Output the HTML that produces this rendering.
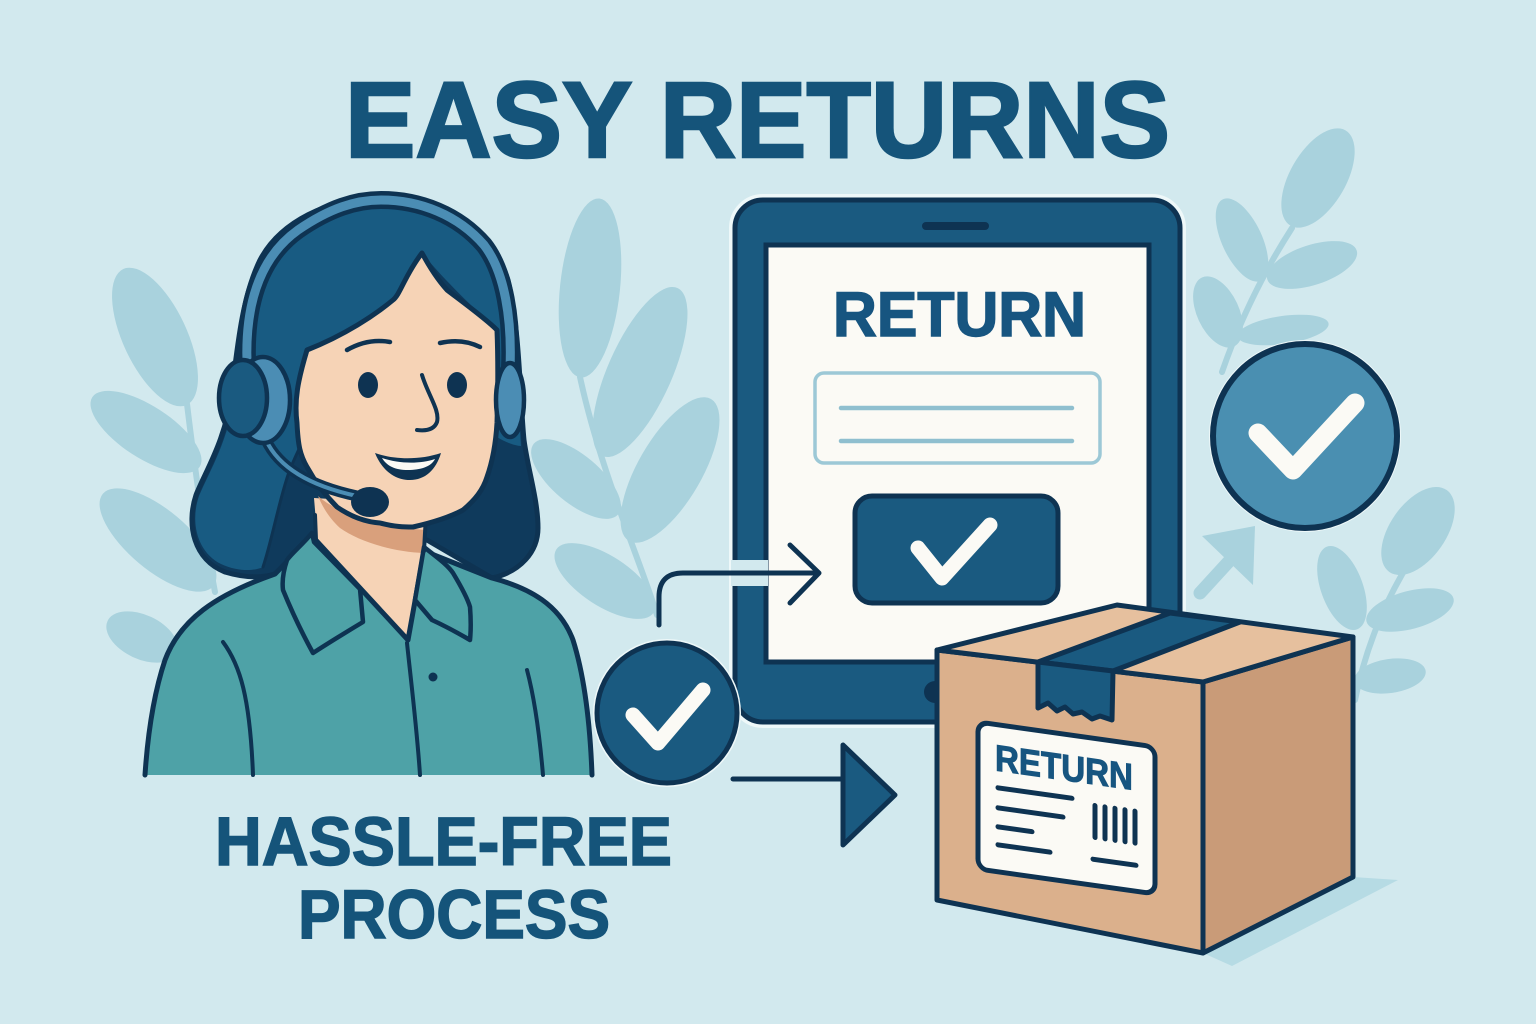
<!DOCTYPE html>
<html>
<head>
<meta charset="utf-8">
<style>
html,body{margin:0;padding:0;background:#d2e9ee;}
svg{display:block;}
text{font-family:"Liberation Sans", Arial, sans-serif;font-weight:bold;}
</style>
</head>
<body>
<svg width="1536" height="1024" viewBox="0 0 1536 1024" xmlns="http://www.w3.org/2000/svg">
  <rect width="1536" height="1024" fill="#d2e9ee"/>

  <!-- Background leaves -->
  <g fill="#a9d2dd" stroke="none">
    <!-- left sprig -->
    <path d="M215,592 C205,540 195,470 187,404" fill="none" stroke="#a9d2dd" stroke-width="6" stroke-linecap="round"/>
    <ellipse cx="155" cy="337" rx="32" ry="75" transform="rotate(-25 155 337)"/>
    <ellipse cx="146" cy="432" rx="64" ry="26" transform="rotate(33 146 432)"/>
    <ellipse cx="158" cy="540" rx="72" ry="30" transform="rotate(40 158 540)"/>
    <ellipse cx="142" cy="637" rx="38" ry="22" transform="rotate(25 142 637)"/>
    <!-- middle sprig -->
    <path d="M657,615 C640,560 600,470 580,377" fill="none" stroke="#a9d2dd" stroke-width="6" stroke-linecap="round"/>
    <ellipse cx="590" cy="288" rx="30" ry="90" transform="rotate(6 590 288)"/>
    <ellipse cx="640" cy="372" rx="32" ry="92" transform="rotate(24 640 372)"/>
    <ellipse cx="576" cy="479" rx="55" ry="24" transform="rotate(40 576 479)"/>
    <ellipse cx="670" cy="470" rx="32" ry="82" transform="rotate(30 670 470)"/>
    <ellipse cx="605" cy="581" rx="58" ry="25" transform="rotate(33 605 581)"/>
    <!-- right top sprig -->
    <path d="M1222,372 C1240,320 1265,270 1292,228" fill="none" stroke="#a9d2dd" stroke-width="6" stroke-linecap="round"/>
    <ellipse cx="1318" cy="178" rx="28" ry="55" transform="rotate(30 1318 178)"/>
    <ellipse cx="1242" cy="240" rx="20" ry="45" transform="rotate(-25 1242 240)"/>
    <ellipse cx="1312" cy="265" rx="47" ry="20" transform="rotate(-18 1312 265)"/>
    <ellipse cx="1218" cy="312" rx="21" ry="38" transform="rotate(-25 1218 312)"/>
    <ellipse cx="1283" cy="330" rx="46" ry="14" transform="rotate(-8 1283 330)"/>
    <!-- right bottom sprig -->
    <path d="M1355,700 C1365,650 1385,600 1412,558" fill="none" stroke="#a9d2dd" stroke-width="6" stroke-linecap="round"/>
    <ellipse cx="1418" cy="531" rx="28" ry="50" transform="rotate(35 1418 531)"/>
    <ellipse cx="1342" cy="588" rx="21" ry="44" transform="rotate(-20 1342 588)"/>
    <ellipse cx="1410" cy="610" rx="45" ry="19" transform="rotate(-15 1410 610)"/>
    <ellipse cx="1390" cy="676" rx="36" ry="17" transform="rotate(-8 1390 676)"/>
    <!-- faint arrow -->
    <path d="M1200,593 L1232,558" fill="none" stroke="#a9d2dd" stroke-width="13" stroke-linecap="round"/>
    <path d="M1202,536 L1255,526 L1253,585 Z"/>
  </g>

  <!-- Title -->
  <text x="345" y="157" font-size="108" fill="#15547a" stroke="#15547a" stroke-width="2.5" textLength="825" lengthAdjust="spacingAndGlyphs">EASY RETURNS</text>

  <!-- ============ WOMAN ============ -->
  <g stroke-linejoin="round" stroke-linecap="round">
    <!-- dark hair silhouette -->
    <path d="M380,198 C328,198 280,222 260,260 C243,295 238,340 232,390 C226,440 206,470 196,495 C186,525 194,560 225,572 C245,578 262,578 275,574 L317,540 L427,540 L492,578 C520,572 538,552 538,528 C538,500 528,470 524,440 C520,400 520,330 508,280 C492,228 440,198 380,198 Z" fill="#0f3a5c" stroke="#0e3352" stroke-width="5"/>
    <!-- light front hair -->
    <path d="M380,201 C328,201 283,225 263,262 C247,296 241,341 235,392 C229,440 210,470 199,496 C190,522 197,552 221,564 C238,572 255,571 263,567 C272,540 278,505 288,475 C294,458 300,448 303,440 L297,423 L307,350 C330,342 350,330 393,300 C405,285 415,268 422,253 C440,275 465,300 497,330 L497,437 C505,442 515,446 521,446 C518,400 518,330 506,282 C490,230 440,201 380,201 Z" fill="#185b82"/>
    <path d="M263,567 C272,540 278,505 288,475 C294,458 300,448 303,440" fill="none" stroke="#0e3352" stroke-width="3"/>

    <!-- neck -->
    <path d="M314,498 L318,546 L408,640 L424,551 L428,505 Z" fill="#f6d3b6"/>
    <path d="M318,496 C338,514 378,526 426,530 L425,553 C392,552 358,541 340,528 C330,519 323,508 318,496 Z" fill="#d9a07c"/>

    <!-- shirt -->
    <path d="M275,574 L312,536 L408,640 L424,551 L492,578 C530,588 560,605 573,640 C584,675 590,720 592,775 L145,775 C148,730 155,690 165,660 C180,620 215,595 275,574 Z" fill="#4ea2a7"/>
    <path d="M145,775 C148,730 155,690 165,660 C180,620 215,595 275,574 L312,536 L408,640 L424,551 L492,578 C530,588 560,605 573,640 C584,675 590,720 592,775" fill="none" stroke="#0e3352" stroke-width="5"/>
    <!-- collars -->
    <path d="M312,533 C302,545 292,553 287,560 C283,572 282,582 283,590 C292,612 302,633 313,653 C330,642 348,631 363,622 L360,589 L314,542 Z" fill="#4ea2a7" stroke="#0e3352" stroke-width="4.5"/>
    <path d="M424,547 C435,556 447,564 453,573 C462,588 468,600 470,607 C471,620 471,630 470,640 C458,633 445,626 432,620 L415,600 Z" fill="#4ea2a7" stroke="#0e3352" stroke-width="4.5"/>
    <!-- placket, button, arm folds -->
    <path d="M407,643 C412,690 417,730 420,775" fill="none" stroke="#0e3352" stroke-width="4"/>
    <circle cx="433" cy="677" r="4.5" fill="#0e3352"/>
    <path d="M223,642 C240,665 250,697 253,775" fill="none" stroke="#0e3352" stroke-width="4"/>
    <path d="M527,670 C535,700 540,740 543,775" fill="none" stroke="#0e3352" stroke-width="4"/>
    <!-- neck outlines -->
    <path d="M315,515 L316,540" stroke="#0e3352" stroke-width="4" fill="none"/>
    <path d="M426,515 L424,551" stroke="#0e3352" stroke-width="4" fill="none"/>

    <!-- face -->
    <path d="M422,253 C405,275 400,295 393,300 C375,315 345,335 307,350 C298,380 294,400 297,423 C298,445 300,455 307,467 C318,487 330,500 337,507 C350,516 365,522 380,523 C395,527 405,527 413,527 C435,522 450,517 463,510 C475,500 483,490 487,477 C493,460 496,440 497,423 C498,390 498,355 497,330 C485,318 460,300 447,290 C438,280 430,268 422,253 Z" fill="#f6d3b6" stroke="#0e3352" stroke-width="5"/>
    <!-- eyebrows -->
    <path d="M347,350 Q368,338 390,342" fill="none" stroke="#0e3352" stroke-width="4.5"/>
    <path d="M440,343 Q462,338 480,347" fill="none" stroke="#0e3352" stroke-width="4.5"/>
    <!-- eyes -->
    <ellipse cx="368" cy="385" rx="10" ry="13" fill="#0e3352"/>
    <ellipse cx="457" cy="385" rx="10" ry="13" fill="#0e3352"/>
    <!-- nose -->
    <path d="M422,375 C428,395 440,410 437,422 C434,430 425,431 417,430" fill="none" stroke="#0e3352" stroke-width="4"/>
    <!-- mouth -->
    <path d="M375,453 C395,460 420,460 441,453 C436,470 425,480 410,480 C393,480 381,468 375,453 Z" fill="#0e3352"/>
    <path d="M382,458 C400,464 420,464 435,459 C431,467 420,470 408,470 C395,470 387,466 382,458 Z" fill="#fbfaf5"/>

    <!-- headset band -->
    <path d="M248,380 C243,320 253,262 298,230 C330,208 356,200 381,200 C420,200 458,215 484,245 C505,272 512,320 510,368" fill="none" stroke="#0e3352" stroke-width="18"/>
    <path d="M248,380 C243,320 253,262 298,230 C330,208 356,200 381,200 C420,200 458,215 484,245 C505,272 512,320 510,368" fill="none" stroke="#4b8db4" stroke-width="9"/>
    <!-- mic boom -->
    <path d="M266,440 C280,470 315,487 357,496" fill="none" stroke="#0e3352" stroke-width="11"/>
    <path d="M266,440 C280,470 315,487 357,496" fill="none" stroke="#4b8db4" stroke-width="4"/>
    <ellipse cx="370" cy="502" rx="19" ry="15" fill="#0e3352"/>
    <!-- left earcup -->
    <ellipse cx="263" cy="400" rx="27" ry="43" fill="#4b8db4" stroke="#0e3352" stroke-width="4.5"/>
    <ellipse cx="243" cy="398" rx="24" ry="38" fill="#1a5a80" stroke="#0e3352" stroke-width="4.5"/>
    <!-- right earcup -->
    <ellipse cx="510" cy="400" rx="14" ry="37" fill="#4b8db4" stroke="#0e3352" stroke-width="4.5"/>
  </g>

  <!-- ============ TABLET ============ -->
  <rect x="735" y="200" width="445" height="522" rx="28" fill="none" stroke="#eef8f9" stroke-width="12"/>
  <rect x="735" y="200" width="445" height="522" rx="28" fill="#1a5a80" stroke="#0e3352" stroke-width="5"/>
  <rect x="922" y="222" width="67" height="8" rx="4" fill="#0e3352"/>
  <rect x="766" y="245" width="383" height="417" fill="#fbfaf5" stroke="#0e3352" stroke-width="5"/>
  <circle cx="935" cy="692" r="11" fill="#0e3352"/>
  <text x="833" y="336" font-size="63" fill="#175580" stroke="#175580" stroke-width="1.5" textLength="253" lengthAdjust="spacingAndGlyphs">RETURN</text>
  <rect x="815" y="373" width="285" height="90" rx="9" fill="#fbfaf5" stroke="#9cc8d6" stroke-width="3.5"/>
  <path d="M841,408 L1072,408 M841,441 L1072,441" stroke="#8fbfcf" stroke-width="4.5" stroke-linecap="round"/>
  <rect x="855" y="496" width="203" height="107" rx="17" fill="#1a5a80" stroke="#0e3352" stroke-width="5"/>
  <path d="M918,548 L942,578 L990,525" fill="none" stroke="#fbfaf5" stroke-width="15" stroke-linecap="round" stroke-linejoin="round"/>

  <!-- curved arrow -->
  <rect x="731" y="560" width="37" height="26" fill="#d2e9ee"/>
  <path d="M659,625 L659,597 Q659,573 683,573 L817,573" fill="none" stroke="#0e3352" stroke-width="5" stroke-linecap="round"/>
  <path d="M790,545 L819,573 L790,603" fill="none" stroke="#0e3352" stroke-width="5" stroke-linecap="round" stroke-linejoin="round"/>

  <!-- left check circle -->
  <circle cx="667" cy="713" r="74" fill="#eef8f9"/>
  <circle cx="667" cy="713" r="70" fill="#1a5a80" stroke="#0e3352" stroke-width="5"/>
  <path d="M633,715 L658,743 L703,690" fill="none" stroke="#fbfaf5" stroke-width="15" stroke-linecap="round" stroke-linejoin="round"/>

  <!-- lower arrow -->
  <path d="M733,779 L843,779" stroke="#0e3352" stroke-width="5" stroke-linecap="round"/>
  <path d="M843,745 L843,845 L895,795 Z" fill="#1a5a80" stroke="#0e3352" stroke-width="5" stroke-linejoin="round"/>

  <!-- right check circle -->
  <circle cx="1305" cy="436" r="96" fill="#eef8f9"/>
  <circle cx="1305" cy="436" r="92" fill="#4a8fb1" stroke="#0e3352" stroke-width="6"/>
  <path d="M1258,433 L1293,470 L1355,403" fill="none" stroke="#fbfaf5" stroke-width="19" stroke-linecap="round" stroke-linejoin="round"/>

  <!-- ============ BOX ============ -->
  <path d="M1353,877 L1398,880 L1232,966 L1203,953 Z" fill="#b6dbe4"/>
  <g stroke="#0e3352" stroke-width="5" stroke-linejoin="round">
    <path d="M937,650 L1203,682 L1203,953 L937,900 Z" fill="#dbb08c"/>
    <path d="M1203,682 L1353,637 L1353,877 L1203,953 Z" fill="#c99b78"/>
    <path d="M937,650 L1117,605 L1353,637 L1203,682 Z" fill="#e6c09e"/>
    <path d="M1038,662 L1113,671 L1240,622 L1170,613 Z" fill="#1a5a80"/>
    <path d="M1038,662 L1113,671 L1112,720 L1100,716 L1092,719 L1082,712 L1073,714 L1065,707 L1057,711 L1048,703 L1038,708 Z" fill="#1a5a80"/>
  </g>
  <!-- label (skewed) -->
  <g transform="matrix(1,0.141,0,1,0,-137.9)">
    <rect x="978" y="722" width="177" height="147" rx="10" fill="#fbfaf5" stroke="#0e3352" stroke-width="5"/>
    <text x="995" y="768" font-size="37" fill="#175580" stroke="#175580" stroke-width="1" textLength="138" lengthAdjust="spacingAndGlyphs">RETURN</text>
    <g stroke="#0e3352" stroke-width="5" stroke-linecap="round">
      <path d="M998,785 L1072,785"/>
      <path d="M998,805 L1063,805"/>
      <path d="M998,824 L1032,824"/>
      <path d="M998,842 L1050,842"/>
      <path d="M1095,789 L1095,821 M1105,789 L1105,821 M1115,789 L1115,821 M1125,789 L1125,821 M1135,789 L1135,821"/>
      <path d="M1093,843 L1136,843"/>
    </g>
  </g>

  <!-- bottom text -->
  <text x="215" y="865" font-size="69" fill="#15547a" stroke="#15547a" stroke-width="1.5" textLength="457" lengthAdjust="spacingAndGlyphs">HASSLE-FREE</text>
  <text x="298" y="938" font-size="69" fill="#15547a" stroke="#15547a" stroke-width="1.5" textLength="312" lengthAdjust="spacingAndGlyphs">PROCESS</text>
</svg>
</body>
</html>
